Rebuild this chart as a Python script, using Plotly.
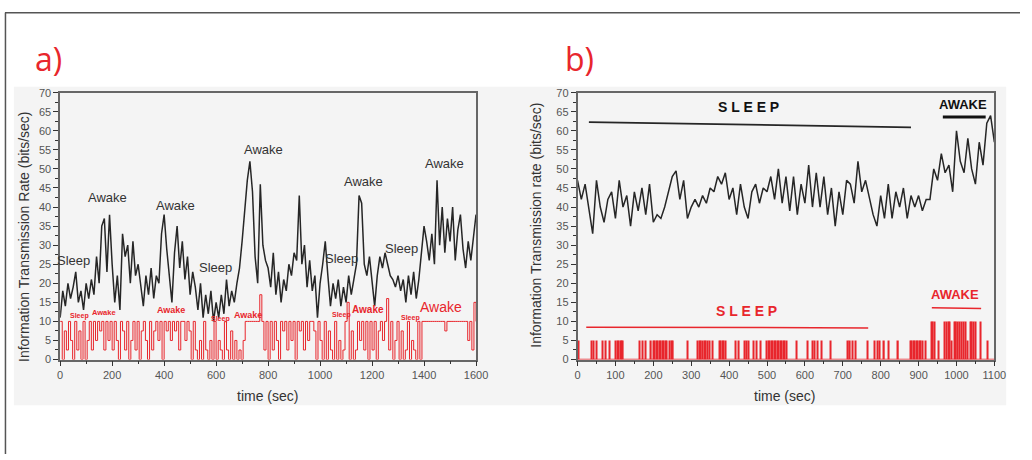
import plotly.graph_objects as go

W, H = 1032, 460
RED = "#e8262c"
INK = "#262626"
TICK = "#555555"

# ---------------- panel a: 1600 s recording ----------------
t_a = list(range(0, 1601, 10))
rate_a = [
    11, 18, 14, 20, 16, 19, 23, 15, 18, 13,
    20, 16, 21, 17, 27, 20, 35, 37, 23, 38,
    25, 15, 22, 13, 33, 27, 30, 20, 31, 22,
    25, 19, 14, 22, 17, 24, 16, 22, 20, 33,
    38, 29, 22, 15, 28, 35, 24, 31, 21, 27,
    17, 23, 19, 13, 20, 11, 17, 12, 18, 10,
    15, 11, 17, 12, 21, 14, 18, 15, 20, 24,
    31, 40, 47, 52, 44, 27, 20, 46, 30, 26,
    24, 19, 28, 17, 23, 15, 21, 18, 25, 22,
    28, 26, 43, 25, 30, 19, 26, 18, 22, 11,
    20, 25, 31, 22, 14, 20, 16, 21, 14, 19,
    15, 22, 17, 21, 25, 43, 41, 25, 22, 27,
    21, 14, 22, 27, 24, 28, 25, 22, 21, 19,
    22, 18, 21, 15, 22, 17, 23, 16, 21, 29,
    35, 31, 26, 33, 25, 47, 30, 40, 28, 37,
    31, 40, 26, 34, 38, 29, 24, 31, 26, 32,
    38,
]

t_a_state = list(range(0, 1601, 8))
state_a = [
    10, 0, 7.5, 2.5, 10, 5, 0, 10, 2.5, 7.5, 0, 10, 0, 5, 10, 2.5, 10, 5, 10, 7.5, 10, 2.5, 10, 5, 10,
    2.5, 10, 5, 0, 10, 7.5, 2.5, 10, 0, 5, 10, 2.5, 10, 0, 7.5, 10, 5, 0, 10, 2.5, 7.5, 10, 5, 10, 0,
    10, 7.5, 10, 5, 10, 7.5, 10, 2.5, 10, 10, 5, 10, 7.5, 0, 10, 2.5, 0, 5, 0, 10, 2.5, 0, 5, 0, 10,
    0, 5, 2.5, 0, 10, 2.5, 0, 7.5, 0, 5, 0, 2.5, 0, 5, 10, 10, 10, 10, 10, 10, 10, 17, 10, 2.5, 10,
    0, 10, 2.5, 10, 5, 0, 10, 7.5, 10, 2.5, 10, 5, 10, 0, 10, 7.5, 10, 2.5, 10, 5, 10, 10, 7.5, 0, 10,
    5, 0, 10, 0, 7.5, 2.5, 0, 10, 0, 5, 0, 2.5, 10, 15, 0, 7.5, 0, 2.5, 10, 5, 10, 2.5, 10, 0, 10,
    2.5, 10, 0, 7.5, 10, 5, 10, 16, 2.5, 10, 0, 5, 10, 0, 7.5, 0, 2.5, 10, 0, 5, 2.5, 0, 10, 0, 10,
    10, 10, 10, 10, 10, 10, 10, 10, 10, 10, 7.5, 10, 10, 10, 10, 10, 10, 10, 10, 10, 10, 5, 10, 2.5, 15,
    10,
]

# ---------------- panel b: 1100 s recording ----------------
t_b = list(range(0, 1101, 10))
rate_b = [
    47, 42, 46, 40, 33, 47, 40, 36, 42, 44,
    37, 47, 40, 43, 35, 44, 39, 45, 38, 46,
    36, 38, 37, 40, 44, 48, 49.5, 42, 47, 37,
    40, 42, 40, 43, 41, 45, 44, 48, 46, 49,
    42, 45, 38, 46, 40, 37, 44, 46, 41, 45,
    44, 48, 42, 50, 41, 48, 39, 48, 38, 46,
    41, 51, 40, 49, 40, 48, 38, 45, 35, 44,
    38, 47, 46, 41, 52, 44, 47, 42, 38, 35,
    43, 37, 46, 37, 44, 40, 45, 37, 43, 40,
    43, 39, 42, 42, 50, 47, 54, 49, 51, 44,
    60, 52, 49, 58, 50, 46, 57, 51, 62, 64,
    57,
]

# event pulses (time in s) of the two amplitudes
pulse_low_t = [
    3, 36, 42, 50, 65, 75, 84, 101, 105, 109, 113, 117, 120,
    163, 172, 180, 194, 200, 204, 208, 212, 216, 220, 224, 228, 232, 236, 244, 248, 252,
    291, 317, 322, 326, 331, 335, 338, 343, 348, 356, 374, 378, 382, 386, 390,
    417, 426, 442, 447, 452, 465, 473, 482,
    499, 503, 507, 511, 515, 519, 523, 527, 531, 535, 539, 543, 547, 551,
    577, 608, 621, 625, 634, 644, 668, 714, 719, 726, 733, 766, 784, 791, 798, 809, 820, 846,
    878, 882, 886, 890, 894, 898, 902, 906, 910, 918, 953, 988, 1029, 1082,
]
pulse_high_t = [
    934, 938, 943, 969, 973, 978, 982, 995, 999, 1004, 1009, 1014, 1019, 1024,
    1037, 1041, 1046, 1050, 1063,
]
pulse_low_h = [5] * len(pulse_low_t)
pulse_high_h = [10] * len(pulse_high_t)


def px(x):
    return x / W


def py(y):
    return 1 - y / H


fig = go.Figure()

# panel a traces
fig.add_trace(go.Scatter(x=t_a_state, y=state_a, mode="lines", line=dict(color=RED, width=1, shape="hv"),
                         xaxis="x", yaxis="y", showlegend=False))
fig.add_trace(go.Scatter(x=t_a, y=rate_a, mode="lines", line=dict(color=INK, width=1.5),
                         xaxis="x", yaxis="y", showlegend=False))

# panel b traces
fig.add_trace(go.Bar(x=pulse_low_t, y=pulse_low_h, width=3.2, marker=dict(color=RED, line=dict(width=0)),
                     xaxis="x2", yaxis="y2", showlegend=False))
fig.add_trace(go.Bar(x=pulse_high_t, y=pulse_high_h, width=3.2, marker=dict(color=RED, line=dict(width=0)),
                     xaxis="x2", yaxis="y2", showlegend=False))
fig.add_trace(go.Scatter(x=t_b, y=rate_b, mode="lines", line=dict(color=INK, width=1.5),
                         xaxis="x2", yaxis="y2", showlegend=False))

FONT = "Liberation Sans, Arial"


def xaxis_cfg(x0, x1, rng, major, minor, anchor):
    return dict(
        domain=[px(x0), px(x1)], range=rng, dtick=major, tick0=0, anchor=anchor,
        ticks="outside", ticklen=5, tickwidth=1, tickcolor="#333",
        minor=dict(dtick=minor, ticks="outside", ticklen=3, tickcolor="#333"),
        showline=True, linecolor="#666", linewidth=1.5, mirror=True,
        showgrid=False, zeroline=False,
        tickfont=dict(family=FONT, size=11, color=TICK),
    )


def yaxis_cfg(anchor):
    return dict(
        domain=[py(363), py(89)], range=[0, 70], dtick=5, tick0=0, anchor=anchor,
        ticks="outside", ticklen=5, tickwidth=1, tickcolor="#333",
        minor=dict(dtick=2.5, ticks="outside", ticklen=3, tickcolor="#333"),
        showline=True, linecolor="#666", linewidth=1.5, mirror=True,
        showgrid=False, zeroline=False,
        tickfont=dict(family=FONT, size=11, color=TICK),
    )


shapes = [
    # light backdrop behind both panels
    dict(type="rect", xref="paper", yref="paper", x0=px(11), x1=px(1018), y0=py(410), y1=py(83),
         fillcolor="#f4f4f4", line=dict(width=0), layer="below"),
    # page frame
    dict(type="line", xref="paper", yref="paper", x0=px(2), x1=1, y0=py(7), y1=py(7),
         line=dict(color="#555", width=1.5)),
    dict(type="line", xref="paper", yref="paper", x0=px(2.5), x1=px(2.5), y0=py(7), y1=0,
         line=dict(color="#555", width=1.5)),
    # panel b baseline of the event train
    dict(type="line", xref="x2", yref="y2", x0=0, x1=1100, y0=0, y1=0, line=dict(color=RED, width=1.5)),
    # state spans in panel b
    dict(type="line", xref="x2", yref="y2", x0=30, x1=880, y0=62.3, y1=60.9, line=dict(color=INK, width=1.8)),
    dict(type="line", xref="x2", yref="y2", x0=964, x1=1077, y0=63.6, y1=63.6, line=dict(color="#111", width=3)),
    dict(type="line", xref="x2", yref="y2", x0=23, x1=767, y0=8.5, y1=8.3, line=dict(color=RED, width=1.5)),
    dict(type="line", xref="x2", yref="y2", x0=935, x1=1065, y0=13.6, y1=13.4, line=dict(color=RED, width=1.5)),
]

ann = []


def label(text, x, y, xref, yref, size, color, family=FONT, angle=0):
    ann.append(dict(text=text, x=x, y=y, xref=xref, yref=yref, showarrow=False,
                    xanchor="center", yanchor="middle", textangle=angle,
                    font=dict(family=family, size=size, color=color)))


# panel letters
label("a)", px(46), py(54), "paper", "paper", 32, RED, family="Open Sans")
label("b)", px(585), py(54), "paper", "paper", 32, RED, family="Open Sans")

# axis titles
label("time (sec)", px(268), py(400), "paper", "paper", 14, "#333")
label("time (sec)", px(793), py(400), "paper", "paper", 14, "#333")
label("Information Transmission Rate (bits/sec)", px(21.5), py(237), "paper", "paper", 14, "#333", angle=-90)
label("Information Transmission rate (bits/sec)", px(541.5), py(225), "paper", "paper", 14, "#333", angle=-90)

# state labels on the rate trace, panel a
for txt, tx, ty in [("Sleep", 52, 26.1), ("Awake", 182, 42.5), ("Awake", 442, 40.4), ("Sleep", 599, 24.2),
                    ("Awake", 781, 55), ("Sleep", 1082, 26.4), ("Awake", 1166, 46.6), ("Sleep", 1312, 29.1),
                    ("Awake", 1477, 51.5)]:
    label(txt, tx, ty, "x", "y", 13, "#333")

# state labels on the event trace, panel a
for txt, tx, ty, fs in [("Sleep", 75, 11.4, 7), ("Awake", 169, 12.3, 7.5), ("Awake", 425, 13, 9),
                        ("Sleep", 617, 10.6, 7), ("Awake", 722, 11.8, 9), ("Sleep", 1082, 11.7, 7),
                        ("Awake", 1183, 13, 10), ("Sleep", 1347, 11, 7), ("Awake", 1467, 13.7, 14)]:
    label(txt if fs > 12 else "<b>%s</b>" % txt, tx, ty, "x", "y", fs, RED)

# state labels, panel b
label("<b>S L E E P</b>", 452, 66.2, "x2", "y2", 14, "#111")
label("<b>AWAKE</b>", 1018, 67, "x2", "y2", 13, "#111")
label("<b>S L E E P</b>", 446, 12.6, "x2", "y2", 14, RED)
label("<b>AWAKE</b>", 996, 17, "x2", "y2", 13, RED)

fig.update_layout(
    width=W, height=H, margin=dict(l=0, r=0, t=0, b=0),
    paper_bgcolor="white", plot_bgcolor="#fbfbfb",
    xaxis=xaxis_cfg(58, 480, [0, 1600], 200, 100, "y"),
    yaxis=yaxis_cfg("x"),
    xaxis2=xaxis_cfg(583, 1006, [0, 1100], 100, 50, "y2"),
    yaxis2=yaxis_cfg("x2"),
    barmode="overlay", shapes=shapes, annotations=ann, showlegend=False,
)

fig.write_html("out.html")
